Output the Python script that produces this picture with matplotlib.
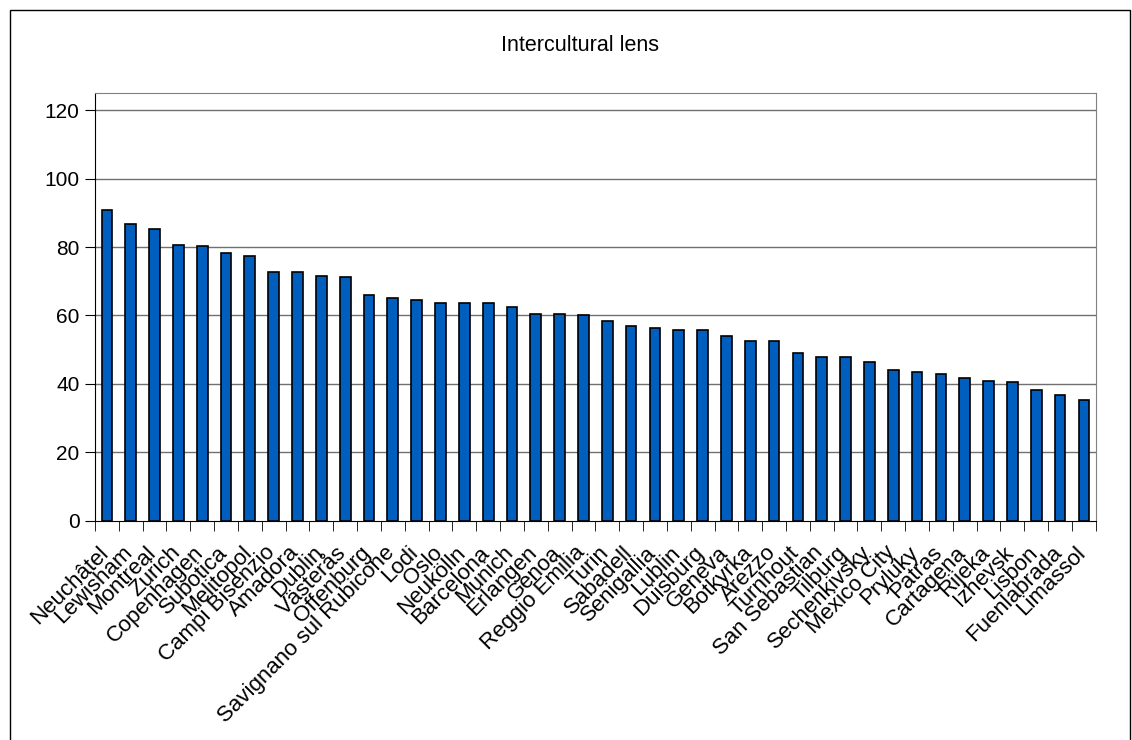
import matplotlib
matplotlib.use("Agg")
import matplotlib.pyplot as plt
import matplotlib.transforms as mtransforms
from matplotlib.patches import Rectangle

cities = ["Neuchâtel", "Lewisham", "Montreal", "Zurich", "Copenhagen", "Subotica",
          "Melitopol", "Campi Bisenzio", "Amadora", "Dublin", "Västerås", "Offenburg",
          "Savignano sul Rubicone", "Lodi", "Oslo", "Neukölln", "Barcelona", "Munich",
          "Erlangen", "Genoa", "Reggio Emilia", "Turin", "Sabadell", "Senigallia",
          "Lublin", "Duisburg", "Geneva", "Botkyrka", "Arezzo", "Turnhout",
          "San Sebastian", "Tilburg", "Sechenkivsky", "Mexico City", "Pryluky", "Patras",
          "Cartagena", "Rijeka", "Izhevsk", "Lisbon", "Fuenlabrada", "Limassol"]
scores = [90.8, 86.8, 85.3, 80.7, 80.2, 78.2, 77.3, 72.6, 72.6, 71.6, 71.2, 66.1,
          65.1, 64.6, 63.6, 63.6, 63.6, 62.6, 60.5, 60.5, 60.0, 58.5, 57.0, 56.4,
          55.6, 55.6, 54.0, 52.4, 52.4, 48.9, 47.9, 47.9, 46.3, 43.9, 43.4, 43.0,
          41.8, 40.8, 40.4, 38.3, 36.8, 35.3]
yticks = [0, 20, 40, 60, 80, 100, 120]

plt.rcParams['font.family'] = ['Liberation Sans', 'DejaVu Sans']

fig = plt.figure(figsize=(11.32, 7.40), dpi=100)
ax = fig.add_axes([0.0839, 0.2964, 0.968 - 0.0839, 0.8747 - 0.2964])

x = list(range(len(cities)))
ax.bar(x, scores, width=0.45, color='#005EBE', edgecolor='black', linewidth=1.2, zorder=3)

ax.set_xlim(-0.5, len(cities) - 0.5)
ax.set_ylim(0, 125.1)
ax.set_yticks(yticks)
ax.set_yticklabels([str(v) for v in yticks], fontsize=15)
for v in yticks[1:]:
    ax.axhline(v, color='#707070', linewidth=1.0, zorder=1)

ax.set_xticks(x)
ax.set_xticklabels(cities, rotation=45, ha='right', rotation_mode='anchor', fontsize=16)
ax.tick_params(axis='x', which='major', length=0, pad=9)
# nudge the slanted city names left of and below each bar
shift = mtransforms.ScaledTranslation(-9 / 100, -9 / 100, fig.dpi_scale_trans)
for lbl in ax.get_xticklabels():
    lbl.set_transform(lbl.get_transform() + shift)
ax.set_xticks([i - 0.5 for i in range(len(cities) + 1)], minor=True)
ax.tick_params(axis='x', which='minor', length=7, direction='out', color='black')
ax.tick_params(axis='y', length=7, direction='out', color='black', pad=4)

ax.spines['left'].set_color('black')
ax.spines['bottom'].set_color('black')
ax.spines['top'].set_color('#808080')
ax.spines['right'].set_color('#808080')

fig.text(0.5128, 0.938, "Intercultural lens", ha='center', va='center', fontsize=15.5)

# outer chart frame
fig.patches.append(Rectangle((10 / 1132, -0.01), 1120 / 1132, 1 - 10 / 740 + 0.01,
                             transform=fig.transFigure, fill=False,
                             edgecolor='black', linewidth=1.0))

fig.savefig("out.png", dpi=100)
